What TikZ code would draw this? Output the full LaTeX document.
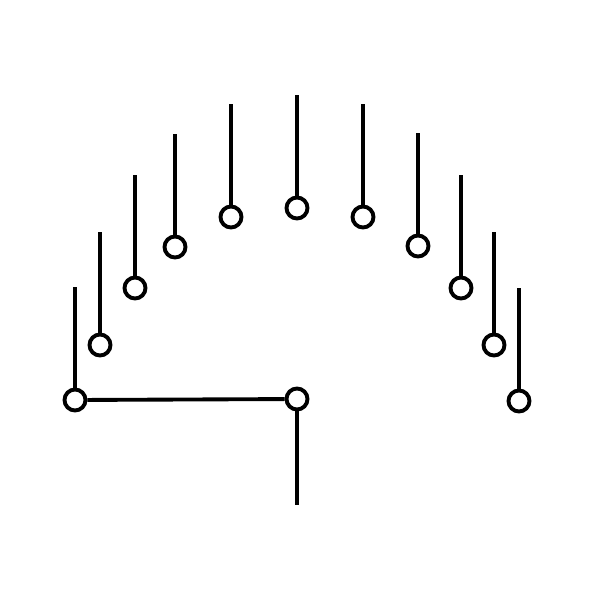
\documentclass[tikz,border=0pt]{standalone}
\begin{document}
\begin{tikzpicture}[x=0.02cm, y=-0.02cm, line width=2.2pt,
    contact/.style={circle, draw, fill=white, inner sep=0pt, minimum size=0.42cm}]
    \useasboundingbox (0,0) rectangle (600,600);
    \foreach \n/\x/\y in {1/75/400, 2/100/345, 3/135/288, 4/175/247, 5/231/217, 6/297/208,
        7/363/217, 8/418/246, 9/461/288, 10/494/345, 11/519/401} {
      \coordinate (t\n) at (\x,\y-113);
      \draw (t\n) -- (\x,\y);
      \node[contact] (c\n) at (\x,\y) {};
    }
    \node[contact] (pole) at (297,399) {};
    \coordinate (out) at (297,505);
    \draw (pole) -- (out);
    \draw (c1) -- (pole);
  \end{tikzpicture}
\end{document}
